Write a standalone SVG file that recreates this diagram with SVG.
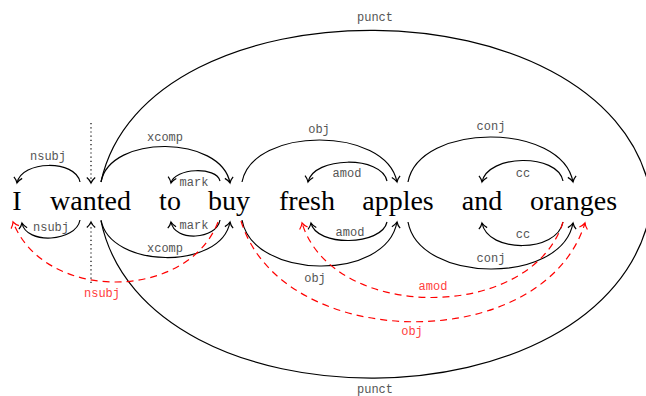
<svg xmlns="http://www.w3.org/2000/svg" width="646" height="396" viewBox="0 0 646 396">
  <style>
    .word { font-family: "Liberation Serif", "Times New Roman", serif; font-size: 28px; fill: #000; text-anchor: middle; }
    .dep { fill: none; stroke: #000; stroke-width: 1.2; marker-end: url(#arrow); }
    .enh { fill: none; stroke: #ff0000; stroke-width: 1.2; stroke-dasharray: 7 5; marker-end: url(#arrowRed); }
    .root { fill: none; stroke: #000; stroke-width: 1.2; stroke-dasharray: 1.2 3; marker-end: url(#arrow); }
    .punct { fill: none; stroke: #000; stroke-width: 1.2; }
    .lbl { font-family: "Liberation Mono", "Courier New", monospace; font-size: 12px; fill: #555; text-anchor: middle; }
    .lblRed { font-family: "Liberation Mono", "Courier New", monospace; font-size: 12px; fill: #ff4040; text-anchor: middle; }
  </style>
  <defs>
    <marker id="arrow" markerUnits="userSpaceOnUse" markerWidth="12" markerHeight="12" viewBox="-7 -6 8 12" refX="0" refY="0" orient="auto">
      <path d="M-5.5,-4.2 C-3.5,-1.8 -1.2,-0.5 0,0 C-1.2,0.5 -3.5,1.8 -5.5,4.2" fill="none" stroke="#000" stroke-width="1.2"/>
    </marker>
    <marker id="arrowRed" markerUnits="userSpaceOnUse" markerWidth="12" markerHeight="12" viewBox="-7 -6 8 12" refX="0" refY="0" orient="auto">
      <path d="M-5.5,-4.2 C-3.5,-1.8 -1.2,-0.5 0,0 C-1.2,0.5 -3.5,1.8 -5.5,4.2" fill="none" stroke="#ff0000" stroke-width="1.2"/>
    </marker>
  </defs>

  <!-- tokens -->
  <g id="w-I"><text class="word" x="17" y="210">I</text></g>
  <g id="w-wanted"><text class="word" x="90.5" y="210">wanted</text></g>
  <g id="w-to"><text class="word" x="170" y="210">to</text></g>
  <g id="w-buy"><text class="word" x="229" y="210">buy</text></g>
  <g id="w-fresh"><text class="word" x="307" y="210">fresh</text></g>
  <g id="w-apples"><text class="word" x="398" y="210">apples</text></g>
  <g id="w-and"><text class="word" x="482" y="210">and</text></g>
  <g id="w-oranges"><text class="word" x="573.5" y="210">oranges</text></g>

  <g id="connectors">
    <!-- basic dependencies, drawn above the tokens -->
    <g id="top-edges">
      <path class="root" d="M91,123 L91,183"/>
      <path class="dep" d="M80,182 C75.6,159.3 21.4,160.3 17,183"/>
      <text class="lbl" x="48" y="160">nsubj</text>
      <path class="dep" d="M101,182 C110,134 221,135 230,183"/>
      <text class="lbl" x="165" y="141">xcomp</text>
      <path class="dep" d="M220,181 C216.6,166 174.4,168 171,183"/>
      <text class="lbl" x="194" y="186">mark</text>
      <path class="dep" d="M242,182 C253,126 386,126 397,182"/>
      <text class="lbl" x="319" y="133">obj</text>
      <path class="dep" d="M387,181 C381.5,155.3 313.5,156.3 308,182"/>
      <text class="lbl" x="347" y="177">amod</text>
      <path class="dep" d="M408,182 C419.5,122 561.5,122 573,182"/>
      <text class="lbl" x="491" y="130">conj</text>
      <path class="dep" d="M563,181 C557.3,153 487.7,154 482,182"/>
      <text class="lbl" x="523" y="177">cc</text>
      <path class="punct" d="M101,182 C145,-22 604,-21 650,190"/>
      <text class="lbl" x="375" y="21">punct</text>
    </g>

    <!-- basic dependencies, mirrored below the tokens -->
    <g id="bottom-edges">
      <path class="root" d="M91,283 L91,222"/>
      <path class="dep" d="M80,220 C76,242 26,245 22,223"/>
      <text class="lbl" x="51" y="231">nsubj</text>
      <path class="dep" d="M101,220 C110,268.7 221,270.7 230,222"/>
      <text class="lbl" x="165" y="252">xcomp</text>
      <path class="dep" d="M220,220 C216.6,240 174.4,242 171,222"/>
      <text class="lbl" x="194" y="229">mark</text>
      <path class="dep" d="M242,220 C253,280 386,282 397,222"/>
      <text class="lbl" x="315" y="282">obj</text>
      <path class="dep" d="M387,222 C381.7,246 316.3,247 311,223"/>
      <text class="lbl" x="350" y="236">amod</text>
      <path class="dep" d="M408,222 C419.5,284 561.5,285 573,223"/>
      <text class="lbl" x="491" y="262">conj</text>
      <path class="dep" d="M563,222 C557.3,252.7 487.7,253.7 482,223"/>
      <text class="lbl" x="523" y="238">cc</text>
      <path class="punct" d="M101,221 C145,431.7 604,431.7 650,214"/>
      <text class="lbl" x="375" y="393">punct</text>
    </g>

    <!-- enhanced (propagated) dependencies -->
    <g id="enhanced-edges">
      <path class="enh" d="M218,222 C187,302 44,302 13,222"/>
      <text class="lblRed" x="102" y="297">nsubj</text>
      <path class="enh" d="M563,222 C532,322 333,323 302,223"/>
      <text class="lblRed" x="433" y="290">amod</text>
      <path class="enh" d="M241,221 C282,354 544,356 585,223"/>
      <text class="lblRed" x="412" y="335">obj</text>
    </g>
  </g>
</svg>
